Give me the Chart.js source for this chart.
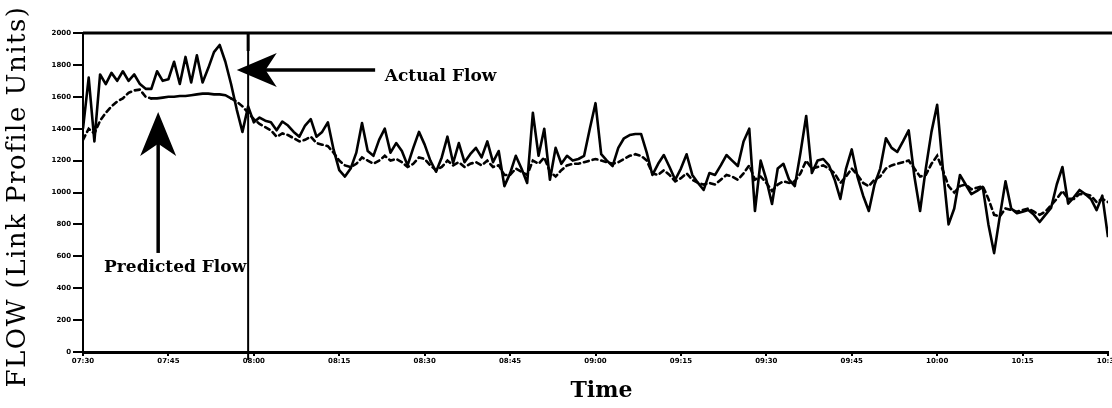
<!DOCTYPE html>
<html>
<head>
<meta charset="utf-8">
<title>Link flow</title>
<script src="https://cdn.jsdelivr.net/npm/chart.js@4.4.0/dist/chart.umd.min.js"></script>
<style>
  html, body { margin: 0; padding: 0; background: #fff; }
  #wrap { width: 1112px; height: 408px; }
</style>
</head>
<body>
<div id="wrap"><canvas id="flow" width="1112" height="408"></canvas></div>
<script>
// one sample per minute, 07:30 - 10:30
const tickLabels = ['07:30', '07:45', '08:00', '08:15', '08:30', '08:45', '09:00',
  '09:15', '09:30', '09:45', '10:00', '10:15', '10:30'];

const actualFlow = [
  1400, 1720, 1320, 1740, 1680, 1750, 1700, 1760, 1700, 1740,
  1680, 1650, 1650, 1760, 1700, 1710, 1820, 1680, 1850, 1690,
  1860, 1690, 1780, 1880, 1925, 1820, 1680, 1520, 1380, 1540,
  1440, 1470, 1450, 1440, 1390, 1445, 1420, 1380, 1350, 1420,
  1460, 1350, 1380, 1440, 1270, 1140, 1100, 1150, 1250, 1436,
  1260, 1230, 1330, 1400, 1250, 1310, 1260, 1170, 1280, 1380,
  1300, 1200, 1130, 1220, 1350, 1185, 1310, 1190, 1240, 1280,
  1220, 1320, 1190, 1260, 1040, 1120, 1230, 1150, 1060, 1500,
  1230, 1400, 1080, 1280, 1180, 1230, 1200, 1210, 1230, 1400,
  1560, 1240, 1200, 1166, 1280, 1340, 1360, 1367, 1367, 1250,
  1110, 1180, 1235, 1160, 1080, 1150, 1240, 1110, 1060, 1016,
  1122, 1110, 1170, 1235, 1200, 1166, 1320, 1400, 884, 1200,
  1080, 928, 1150, 1180, 1080, 1040, 1250, 1480, 1122, 1200,
  1210, 1170, 1080, 960, 1150, 1270, 1100, 980, 884, 1050,
  1150, 1340, 1280, 1254, 1320, 1390, 1100, 884, 1150, 1380,
  1550, 1150, 800, 900, 1110, 1050, 990, 1010, 1035, 800,
  620, 850, 1070, 900, 870, 880, 890, 860, 815, 860,
  903, 1050, 1160, 930, 970, 1016, 990, 960, 890, 980,
  720
];

const predictedFlow = [
  1330, 1400, 1370, 1450, 1500, 1540, 1570, 1590, 1625, 1640,
  1645, 1600, 1590, 1590, 1595, 1600, 1600, 1605, 1605, 1610,
  1615, 1620, 1620, 1615, 1615, 1610, 1590, 1570, 1540, 1500,
  1460, 1430, 1410, 1390, 1350, 1370, 1360, 1340, 1320, 1330,
  1350, 1310, 1300, 1290, 1250, 1200, 1170, 1160, 1180, 1220,
  1200, 1180, 1200, 1230, 1200, 1210, 1190, 1160, 1180, 1220,
  1210, 1170, 1140, 1160, 1200, 1170, 1190, 1160, 1180, 1190,
  1170, 1200, 1160, 1170, 1110, 1110, 1150, 1130, 1110, 1200,
  1180, 1220, 1130, 1100, 1140, 1170, 1180, 1180, 1190, 1200,
  1210, 1200, 1190, 1180, 1190, 1210, 1230, 1240, 1230, 1200,
  1120, 1110, 1140, 1110, 1070, 1090, 1120, 1080, 1060, 1050,
  1060, 1050, 1080, 1110, 1100, 1080, 1120, 1170, 1080, 1100,
  1060, 1010, 1050, 1070, 1060, 1070, 1120, 1200, 1150, 1160,
  1170, 1150, 1120, 1060, 1100, 1150, 1110, 1060, 1040, 1080,
  1100, 1150, 1170, 1180, 1190, 1200, 1150, 1100, 1110, 1180,
  1230, 1140, 1040, 1000, 1040, 1050, 1020, 1030, 1040, 960,
  860, 850, 900, 890, 880, 890, 900, 880, 860, 880,
  920, 960, 1010, 960, 960, 990, 990, 980, 940, 960,
  940
];

const markerIndex = 29; // start of the forecast

function arrow(ctx, tx, ty, bx, by, headLen, headHalf, shaft) {
  const len = Math.hypot(tx - bx, ty - by);
  ctx.save();
  ctx.translate(tx, ty);
  ctx.rotate(Math.atan2(ty - by, tx - bx));
  ctx.lineWidth = shaft;
  ctx.beginPath();
  ctx.moveTo(-headLen * 0.7, 0);
  ctx.lineTo(-len, 0);
  ctx.stroke();
  ctx.beginPath();
  ctx.moveTo(0, 0);
  ctx.lineTo(-headLen, -headHalf);
  ctx.lineTo(-headLen * 0.72, 0);
  ctx.lineTo(-headLen, headHalf);
  ctx.closePath();
  ctx.fill();
  ctx.restore();
}

const overlay = {
  id: 'overlay',
  afterDraw(chart) {
    const { ctx, chartArea: a, scales: { x, y } } = chart;
    ctx.save();
    ctx.strokeStyle = '#000';
    ctx.fillStyle = '#000';
    ctx.lineCap = 'butt';

    // top frame
    ctx.lineWidth = 3;
    ctx.beginPath();
    ctx.moveTo(a.left, a.top);
    ctx.lineTo(chart.width, a.top);
    ctx.stroke();

    // forecast start marker
    const mx = x.getPixelForValue(markerIndex);
    ctx.lineWidth = 2;
    ctx.beginPath();
    ctx.moveTo(mx, a.top);
    ctx.lineTo(mx, a.bottom + 8);
    ctx.stroke();
    ctx.lineWidth = 3;
    ctx.beginPath();
    ctx.moveTo(mx, a.top);
    ctx.lineTo(mx, a.top + 18);
    ctx.stroke();

    // "Actual Flow" callout
    arrow(ctx, x.getPixelForValue(27), y.getPixelForValue(1768),
      x.getPixelForValue(51.3), y.getPixelForValue(1768), 40, 17, 3.5);
    ctx.font = 'bold 17px "DejaVu Serif"';
    ctx.textAlign = 'left';
    ctx.textBaseline = 'alphabetic';
    ctx.fillText('Actual Flow', x.getPixelForValue(53), y.getPixelForValue(1700));

    // "Predicted Flow" callout
    arrow(ctx, x.getPixelForValue(13.2), y.getPixelForValue(1505),
      x.getPixelForValue(13.2), y.getPixelForValue(621), 44, 18, 3.5);
    ctx.font = 'bold 17px "DejaVu Serif"';
    ctx.fillText('Predicted Flow', x.getPixelForValue(3.7), y.getPixelForValue(502));

    // axis titles
    ctx.textAlign = 'center';
    ctx.font = 'bold 22px "DejaVu Serif"';
    ctx.fillText('Time', (a.left + a.right) / 2 + 6, 397);

    ctx.translate(25, (a.top + a.bottom) / 2 + 4);
    ctx.rotate(-Math.PI / 2);
    ctx.font = '26px "DejaVu Serif"';
    ctx.letterSpacing = '1.5px';
    ctx.fillText('FLOW (Link Profile Units)', 0, 0);
    ctx.restore();
  }
};

const tickFont = { family: '"DejaVu Sans"', size: 7, weight: 'bold' };

// the flat stretch of the forecast is printed as a solid rule
const predictedDash = c => (c.p0DataIndex >= 12 && c.p1DataIndex <= 26 ? [] : [5, 4]);

new Chart(document.getElementById('flow'), {
  type: 'line',
  data: {
    datasets: [
      {
        label: 'Actual Flow',
        data: actualFlow.map((v, i) => ({ x: i, y: v })),
        borderColor: '#000',
        borderWidth: 2.6,
        borderJoinStyle: 'round',
        pointRadius: 0,
        tension: 0
      },
      {
        label: 'Predicted Flow',
        data: predictedFlow.map((v, i) => ({ x: i, y: v })),
        borderColor: '#000',
        borderWidth: 2.6,
        borderCapStyle: 'round',
        segment: { borderDash: predictedDash },
        pointRadius: 0,
        tension: 0
      }
    ]
  },
  options: {
    responsive: false,
    animation: false,
    devicePixelRatio: 1,
    layout: { padding: { top: 33, right: 4, left: 0, bottom: 0 } },
    plugins: { legend: { display: false }, tooltip: { enabled: false } },
    scales: {
      x: {
        type: 'linear',
        min: 0,
        max: 180,
        ticks: {
          stepSize: 15,
          autoSkip: false,
          maxRotation: 0,
          padding: 1,
          color: '#000',
          font: tickFont,
          callback: v => tickLabels[v / 15]
        },
        grid: { drawOnChartArea: false, tickLength: 4, color: '#000', lineWidth: 2 },
        border: { color: '#000', width: 3 },
        afterFit: s => { s.height = 56; s.paddingLeft = 0; s.paddingRight = 0; }
      },
      y: {
        min: 0,
        max: 2000,
        ticks: { stepSize: 200, padding: 2, color: '#000', font: tickFont, callback: v => String(v) },
        grid: { drawOnChartArea: false, tickLength: 10, color: '#000', lineWidth: 2 },
        border: { color: '#000', width: 2 },
        afterFit: s => { s.width = 83; s.paddingTop = 0; s.paddingBottom = 0; }
      }
    }
  },
  plugins: [overlay]
});
</script>
</body>
</html>
